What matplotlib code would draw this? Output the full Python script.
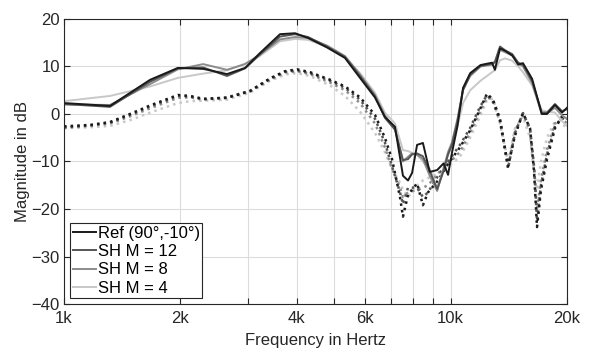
import matplotlib
matplotlib.use('Agg')
import matplotlib.pyplot as plt
from matplotlib.ticker import FixedLocator, FixedFormatter, NullLocator

plt.rcParams['font.family'] = ['Liberation Sans', 'DejaVu Sans']

# frequency grid (Hz) for the solid curves
freq_solid = [1000, 1315, 1670, 1970, 2290, 2640, 2940, 3210, 3620, 3960, 4280, 4790,
              5330, 5830, 6370, 6760, 7180, 7530, 7760, 7950, 8190, 8480, 8830, 9230,
              9590, 9850, 10080, 10420, 10770, 11240, 11950, 12800, 13020, 13420, 13840,
              14440, 14960, 15390, 16250, 17210, 17760, 18620, 19420, 20000]

ref_solid = [2.3, 1.7, 7.2, 9.7, 9.5, 8.4, 9.7, 12.8, 16.8, 17.0, 16.0, 14.0,
             11.8, 7.6, 3.5, -0.6, -2.7, -13.0, -14.0, -12.4, -6.5, -6.1, -12.2, -11.8,
             -10.4, -12.8, -8.2, -2.5, 5.5, 8.6, 10.3, 10.8, 9.3, 13.8, 13.3,
             12.3, 10.4, 10.7, 7.4, 0.0, 0.0, 1.9, 0.3, 1.3]
m12_solid = [2.1, 1.5, 6.8, 9.6, 9.8, 8.0, 9.6, 12.5, 16.3, 16.8, 16.2, 14.2,
             12.0, 8.0, 3.8, -0.8, -3.3, -9.7, -9.5, -8.5, -8.3, -8.9, -12.0, -15.8,
             -12.0, -8.5, -6.5, -1.5, 5.0, 8.3, 10.1, 10.6, 11.0, 14.2, 13.4,
             12.6, 10.8, 10.4, 7.0, 0.3, 0.3, 2.1, 0.6, 1.0]
m8_solid = [2.0, 1.9, 6.3, 9.4, 10.5, 9.3, 10.5, 12.5, 15.7, 16.2, 16.0, 14.4,
            12.2, 8.3, 4.0, -0.3, -3.2, -10.0, -9.0, -8.3, -8.6, -9.5, -13.0, -16.2,
            -11.5, -8.0, -6.0, -1.0, 5.2, 8.0, 10.0, 10.4, 10.8, 13.5, 13.0,
            12.3, 10.6, 10.0, 6.5, 0.0, 0.2, 1.3, -0.3, -1.0]
m4_solid = [2.7, 3.8, 5.8, 7.6, 8.5, 9.2, 10.6, 12.2, 15.3, 15.8, 15.6, 14.2,
            12.0, 8.6, 4.5, 0.3, -2.0, -7.6, -7.8, -8.2, -8.5, -10.0, -11.5, -15.5,
            -11.5, -8.5, -7.0, -2.5, 2.3, 5.0, 7.0, 8.8, 9.2, 11.3, 11.7,
            11.2, 10.0, 8.8, 6.0, 0.8, 0.5, 0.3, -1.5, -2.5]

# frequency grid (Hz) for the dotted curves
freq_dot = [1000, 1168, 1315, 1481, 1670, 1970, 2118, 2290, 2640, 3028, 3411, 3729,
            4006, 4329, 4878, 5332, 5831, 6375, 6760, 7054, 7398, 7530, 7760, 8190,
            8480, 8741, 9278, 9850, 10575, 11224, 11913, 12422, 12872, 13420, 14080,
            14678, 15390, 16049, 16434, 16732, 17127, 17760, 18620, 19420, 20000]

ref_dot = [-2.6, -2.3, -1.7, 0.0, 1.8, 4.0, 3.8, 3.2, 3.4, 4.8, 7.5, 9.0,
           9.4, 8.8, 7.2, 5.8, 3.5, -0.2, -5.0, -9.5, -17.5, -21.6, -17.0, -14.6,
           -19.2, -16.5, -14.0, -10.5, -7.0, -3.5, 1.0, 4.3, 3.0, -1.0, -11.0,
           -4.5, 0.2, -3.0, -12.0, -23.8, -16.0, -9.5, -3.0, -0.5, -1.0]
m12_dot = [-2.8, -2.4, -1.8, -0.2, 1.6, 3.8, 3.7, 3.1, 3.5, 4.9, 7.4, 8.9,
           9.2, 8.6, 7.0, 5.5, 3.0, -1.0, -6.0, -11.0, -16.5, -19.0, -15.5, -15.5,
           -17.5, -16.5, -13.0, -10.0, -6.5, -3.0, 1.5, 4.0, 2.5, -1.5, -11.5,
           -4.0, 0.2, -3.0, -11.0, -22.5, -15.0, -8.5, -2.5, -0.8, -1.5]
m8_dot = [-2.9, -2.5, -2.0, -0.5, 1.2, 3.4, 3.5, 3.0, 3.4, 4.8, 7.2, 8.7,
          9.0, 8.4, 6.6, 5.0, 2.3, -2.0, -7.0, -11.5, -15.5, -17.5, -16.5, -16.0,
          -15.5, -15.0, -12.5, -10.5, -8.0, -4.0, 0.5, 3.5, 3.0, -1.5, -11.0,
           -3.5, 0.0, -3.5, -11.0, -20.0, -14.0, -7.5, -2.0, -1.0, -2.0]
m4_dot = [-3.0, -2.8, -2.5, -1.3, 0.3, 2.3, 2.7, 2.8, 3.0, 4.5, 7.0, 8.3,
          8.6, 8.0, 6.0, 3.8, 0.5, -4.0, -8.0, -11.5, -14.5, -16.0, -17.5, -15.0,
          -14.0, -13.5, -12.5, -11.0, -9.0, -5.0, -0.5, 3.0, 3.2, -2.0, -10.0,
          -3.0, -0.5, -5.0, -12.0, -16.0, -10.0, -5.0, -1.5, -2.0, -3.0]

labels = ['Ref (90°,-10°)', 'SH M = 12', 'SH M = 8', 'SH M = 4']
colors = ['#1a1a1a', '#555555', '#8c8c8c', '#c8c8c8']
solid_series = [ref_solid, m12_solid, m8_solid, m4_solid]
dot_series = [ref_dot, m12_dot, m8_dot, m4_dot]

x_ticks = [1000, 2000, 3000, 4000, 5000, 6000, 7000, 8000, 9000, 10000, 20000]
x_tick_labels = ['1k', '2k', '', '4k', '', '6k', '', '', '', '10k', '20k']
y_ticks = [-40, -30, -20, -10, 0, 10, 20]

fig = plt.figure(figsize=(5.89, 3.49), dpi=100)
ax = fig.add_axes([0.1087, 0.1289, 0.8539, 0.8167])

# dotted curves first (not in the legend)
for vals, col in zip(dot_series[::-1], colors[::-1]):
    ax.plot(freq_dot, vals, linestyle=':', color=col, linewidth=1.8)

handles = []
for vals, col, lab in zip(solid_series[::-1], colors[::-1], labels[::-1]):
    h, = ax.plot(freq_solid, vals, linestyle='-', color=col, linewidth=1.4, label=lab)
    handles.append(h)
handles = handles[::-1]

ax.set_xscale('log')
ax.set_xlim(1000, 20000)
ax.set_ylim(-40, 20)
ax.xaxis.set_major_locator(FixedLocator(x_ticks))
ax.xaxis.set_major_formatter(FixedFormatter(x_tick_labels))
ax.xaxis.set_minor_locator(NullLocator())
ax.set_yticks(y_ticks)

ax.grid(True, color='#dcdcdc', linewidth=0.8)
ax.set_axisbelow(True)
ax.tick_params(direction='in', top=True, right=True, length=4, width=0.8,
               colors='#262626', labelsize=12)
ax.tick_params(axis='x', pad=5)
ax.tick_params(axis='y', pad=3)
for s in ax.spines.values():
    s.set_color('#262626')
    s.set_linewidth(0.8)

ax.set_xlabel('Frequency in Hertz', fontsize=12, color='#262626', labelpad=5)
ax.set_ylabel('Magnitude in dB', fontsize=12, color='#262626', labelpad=1)

leg = ax.legend(handles=handles, loc='lower left', bbox_to_anchor=(0.012, 0.02),
                fontsize=12, handlelength=1.4, handletextpad=0.1,
                borderpad=0.15, labelspacing=0.2, borderaxespad=0.0,
                fancybox=False, framealpha=1.0)
leg.get_frame().set_edgecolor('#262626')
leg.get_frame().set_linewidth(0.8)

plt.savefig('out.png', dpi=100)
plt.close()
